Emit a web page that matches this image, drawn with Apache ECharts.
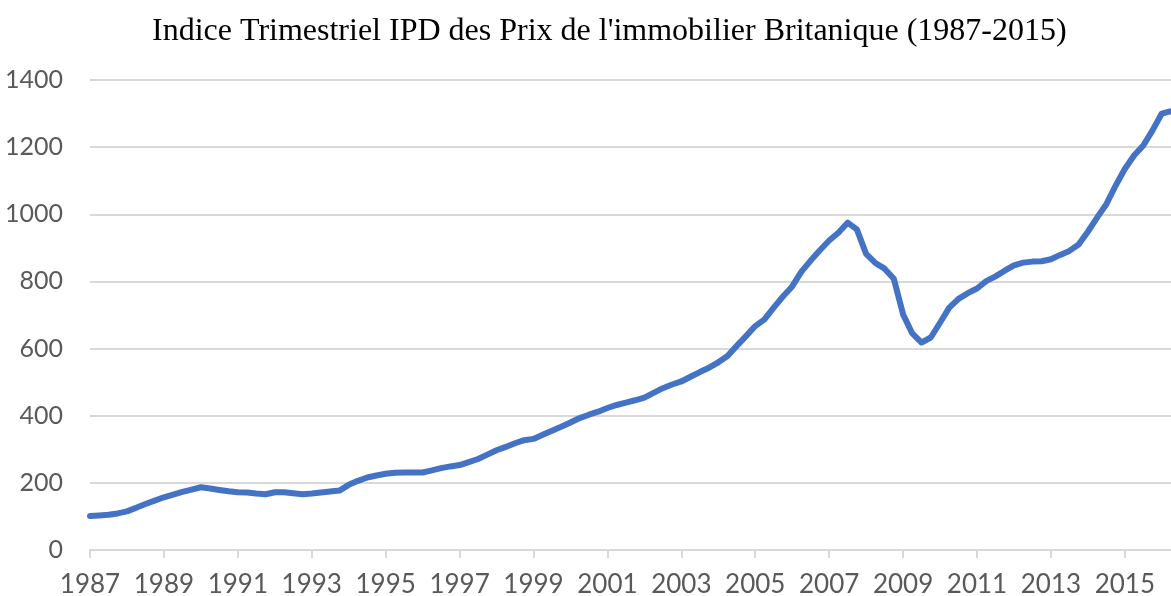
<!DOCTYPE html>
<html lang="fr">
<head>
<meta charset="UTF-8">
<title>Indice IPD</title>
<script src="https://cdn.jsdelivr.net/npm/echarts@6.0.0/dist/echarts.min.js"></script>
<style>
  body { margin: 0; padding: 0; background: #fff; }
  #chart { width: 1171px; height: 596px; }
</style>
</head>
<body>
<div id="chart"></div>
<script>
  // indice trimestriel, 1987 T1 -> 2016 T2
  const startYear = 1987;
  const indexValues = [
    101, 103, 105, 109,      // 1987
    115, 126, 137, 147,      // 1988
    157, 165, 173, 180,      // 1989
    187, 183, 179, 175,      // 1990
    172, 171, 168, 166,      // 1991
    172, 172, 169, 166,      // 1992
    168, 171, 174, 177,      // 1993
    194, 206, 216, 222,      // 1994
    227, 230, 231, 231,      // 1995
    231, 237, 244, 249,      // 1996
    253, 262, 271, 284,      // 1997
    297, 307, 318, 327,      // 1998
    331, 343, 355, 367,      // 1999
    380, 393, 403, 412,      // 2000
    423, 432, 439, 446,      // 2001
    454, 468, 482, 493,      // 2002
    502, 516, 530, 543,      // 2003
    559, 578, 608, 637,      // 2004
    667, 687, 722, 755,      // 2005
    785, 829, 862, 893,      // 2006
    922, 945, 975, 955,      // 2007
    882, 855, 838, 808,      // 2008
    702, 645, 618, 633,      // 2009
    677, 722, 748, 765,      // 2010
    779, 801, 815, 832,      // 2011
    848, 856, 859, 860,      // 2012
    866, 879, 891, 910,      // 2013
    948, 990, 1030, 1085,    // 2014
    1135, 1175, 1205, 1250,  // 2015
    1300, 1307               // 2016
  ];
  const tickYears = [1987, 1989, 1991, 1993, 1995, 1997, 1999, 2001, 2003, 2005, 2007, 2009, 2011, 2013, 2015];

  const seriesData = indexValues.map((v, i) => [startYear + i / 4, v]);
  const lastX = startYear + (indexValues.length - 1) / 4;

  const chart = echarts.init(document.getElementById('chart'));
  chart.setOption({
    animation: false,
    title: {
      text: "Indice Trimestriel IPD des Prix de l'immobilier Britanique (1987-2015)",
      left: 147,
      top: 11,
      textStyle: {
        fontFamily: 'Liberation Serif',
        fontSize: 32,
        fontWeight: 'normal',
        color: '#000'
      }
    },
    grid: { left: 90, right: 0, top: 80, bottom: 46, outerBoundsMode: 'none' },
    xAxis: {
      type: 'value',
      min: startYear,
      max: lastX,
      axisLine: { show: true, lineStyle: { color: '#d9d9d9', width: 2 } },
      axisTick: { show: true, customValues: tickYears, length: 8, lineStyle: { color: '#d9d9d9', width: 2 } },
      axisLabel: {
        customValues: tickYears,
        formatter: v => String(Math.round(v)),
        margin: 22,
        fontFamily: 'Lato',
        fontSize: 26,
        color: '#595959'
      },
      splitLine: { show: false }
    },
    yAxis: {
      type: 'value',
      min: 0,
      max: 1400,
      interval: 200,
      axisLine: { show: false },
      axisTick: { show: false },
      axisLabel: {
        formatter: v => String(v),
        margin: 27,
        fontFamily: 'Lato',
        fontSize: 25,
        color: '#595959'
      },
      splitLine: { lineStyle: { color: '#d9d9d9', width: 2 } }
    },
    series: [{
      type: 'line',
      data: seriesData,
      showSymbol: false,
      symbol: 'none',
      lineStyle: { color: '#4472c4', width: 6, cap: 'round', join: 'round' }
    }]
  });
</script>
</body>
</html>
